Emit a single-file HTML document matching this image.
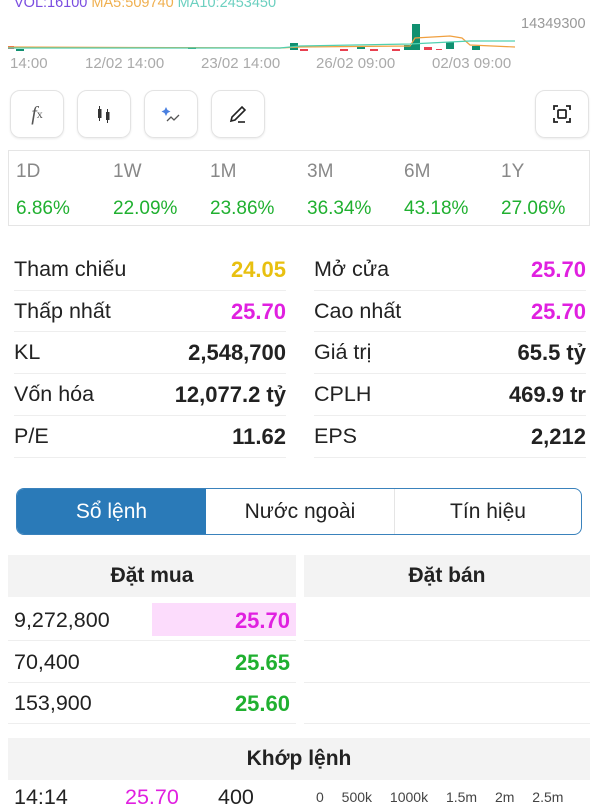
<!DOCTYPE html>
<html><head><meta charset="utf-8"><style>
*{margin:0;padding:0;box-sizing:border-box}
body{width:600px;height:800px;overflow:hidden;background:#fff;font-family:"Liberation Sans",sans-serif;position:relative;color:#222}
.a{position:absolute;white-space:nowrap}
.btn{position:absolute;top:90px;width:54px;height:48px;border:1px solid #e3e3e3;border-radius:10px;box-shadow:0 1px 2px rgba(0,0,0,.08);display:flex;align-items:center;justify-content:center}
.lbl{font-size:21.5px;color:#222}
.val{font-size:22px;font-weight:bold;text-align:right}
.sep{position:absolute;height:1px;background:#eee}
.p{font-size:19px}
</style></head><body>
<div class="a" style="top:-5px;left:14px;font-size:14.5px"><span style="color:#7a4de0">VOL:16100</span> <span style="color:#f0b050">MA5:509740</span> <span style="color:#6cd0c0">MA10:2453450</span></div>
<div class="a" style="top:16px;left:521px;font-size:14.5px;color:#999">14349300</div>
<svg class="a" style="left:0;top:20px" width="520" height="35">
<g fill="#109070">
<rect x="16" y="29" width="8" height="2"/><rect x="188" y="27" width="8" height="2"/><rect x="290" y="23" width="8" height="7"/><rect x="357" y="26" width="8" height="3"/><rect x="404" y="25" width="8" height="5"/><rect x="412" y="4" width="8" height="26"/><rect x="446" y="22" width="8" height="7"/><rect x="472" y="26" width="8" height="4"/>
</g>
<g fill="#e84050"><rect x="8" y="26" width="6" height="3"/><rect x="300" y="29" width="8" height="2"/><rect x="340" y="29" width="8" height="2"/><rect x="370" y="29" width="8" height="2"/><rect x="392" y="29" width="8" height="2"/><rect x="424" y="27" width="8" height="3"/><rect x="436" y="29" width="6" height="1"/></g>
<polyline points="8,27 280,28 300,27 410,26 415,18 450,16 462,18 470,25 515,27" fill="none" stroke="#f0a040" stroke-width="1.2"/>
<polyline points="8,28 280,28 300,26 410,24 450,22 470,21 515,21" fill="none" stroke="#50d0b0" stroke-width="1.2"/>
</svg>
<div class="a" style="top:55px;left:10px;font-size:15px;color:#aaa">14:00</div>
<div class="a" style="top:55px;left:85px;font-size:15px;color:#aaa">12/02 14:00</div>
<div class="a" style="top:55px;left:201px;font-size:15px;color:#aaa">23/02 14:00</div>
<div class="a" style="top:55px;left:316px;font-size:15px;color:#aaa">26/02 09:00</div>
<div class="a" style="top:55px;left:432px;font-size:15px;color:#aaa">02/03 09:00</div>
<div class="btn" style="left:10px;font-family:'Liberation Serif';font-size:20px;color:#555"><i>f</i><sub style="font-size:12px">x</sub></div>
<div class="btn" style="left:77px"><svg width="16" height="20"><rect x="2" y="5" width="3.5" height="9" fill="#333"/><line x1="3.5" y1="2" x2="3.5" y2="17" stroke="#333"/><rect x="10" y="8" width="3.5" height="8" fill="#333"/><line x1="11.5" y1="5" x2="11.5" y2="19" stroke="#333"/></svg></div>
<div class="btn" style="left:144px"><svg width="22" height="20"><path d="M6 3l1.5 3 3 1.5-3 1.5L6 12 4.5 9 1.5 7.5l3-1.5z" fill="#4a80e0"/><polyline points="7,17 11,13 14,16 19,11" fill="none" stroke="#555" stroke-width="1.3"/></svg></div>
<div class="btn" style="left:211px"><svg width="20" height="20"><path d="M3 17l1-4 10-10 3 3-10 10z" fill="none" stroke="#222" stroke-width="1.6"/><line x1="10" y1="18" x2="17" y2="18" stroke="#222" stroke-width="1.6"/></svg></div>
<div class="btn" style="left:535px"><svg width="18" height="18" fill="none" stroke="#222" stroke-width="1.8"><path d="M1 5V1h4M13 1h4v4M17 13v4h-4M5 17H1v-4"/><rect x="5" y="5" width="8" height="8" rx="1"/></svg></div>
<div class="a" style="left:8px;top:150px;width:582px;height:76px;border:1px solid #e5e5e5"></div>
<div class="a p" style="top:161px;left:16px;color:#888">1D</div>
<div class="a p" style="top:161px;left:113px;color:#888">1W</div>
<div class="a p" style="top:161px;left:210px;color:#888">1M</div>
<div class="a p" style="top:161px;left:307px;color:#888">3M</div>
<div class="a p" style="top:161px;left:404px;color:#888">6M</div>
<div class="a p" style="top:161px;left:501px;color:#888">1Y</div>
<div class="a p" style="top:198px;left:16px;color:#20b030">6.86%</div>
<div class="a p" style="top:198px;left:113px;color:#20b030">22.09%</div>
<div class="a p" style="top:198px;left:210px;color:#20b030">23.86%</div>
<div class="a p" style="top:198px;left:307px;color:#20b030">36.34%</div>
<div class="a p" style="top:198px;left:404px;color:#20b030">43.18%</div>
<div class="a p" style="top:198px;left:501px;color:#20b030">27.06%</div>

<div class="a lbl" style="top:257px;left:14px">Tham chiếu</div><div class="a val" style="top:257px;right:314px;color:#e8c010">24.05</div>
<div class="a lbl" style="top:257px;left:314px">Mở cửa</div><div class="a val" style="top:257px;right:14px;color:#e020e0">25.70</div>
<div class="a lbl" style="top:299px;left:14px">Thấp nhất</div><div class="a val" style="top:299px;right:314px;color:#e020e0">25.70</div>
<div class="a lbl" style="top:299px;left:314px">Cao nhất</div><div class="a val" style="top:299px;right:14px;color:#e020e0">25.70</div>
<div class="a lbl" style="top:340px;left:14px">KL</div><div class="a val" style="top:340px;right:314px">2,548,700</div>
<div class="a lbl" style="top:340px;left:314px">Giá trị</div><div class="a val" style="top:340px;right:14px">65.5 tỷ</div>
<div class="a lbl" style="top:382px;left:14px">Vốn hóa</div><div class="a val" style="top:382px;right:314px">12,077.2 tỷ</div>
<div class="a lbl" style="top:382px;left:314px">CPLH</div><div class="a val" style="top:382px;right:14px">469.9 tr</div>
<div class="a lbl" style="top:424px;left:14px">P/E</div><div class="a val" style="top:424px;right:314px">11.62</div>
<div class="a lbl" style="top:424px;left:314px">EPS</div><div class="a val" style="top:424px;right:14px">2,212</div>
<div class="sep" style="top:290px;left:14px;width:272px"></div><div class="sep" style="top:290px;left:314px;width:272px"></div>
<div class="sep" style="top:331px;left:14px;width:272px"></div><div class="sep" style="top:331px;left:314px;width:272px"></div>
<div class="sep" style="top:373px;left:14px;width:272px"></div><div class="sep" style="top:373px;left:314px;width:272px"></div>
<div class="sep" style="top:415px;left:14px;width:272px"></div><div class="sep" style="top:415px;left:314px;width:272px"></div>
<div class="sep" style="top:457px;left:14px;width:272px"></div><div class="sep" style="top:457px;left:314px;width:272px"></div>

<div class="a" style="left:16px;top:488px;width:566px;height:47px;border:1.5px solid #3a82bc;border-radius:8px;overflow:hidden;display:flex;font-size:21px;padding-top:4px">
<div style="width:189px;background:#2a7ab8;color:#fff;display:flex;align-items:center;justify-content:center;margin-top:-4px">Sổ lệnh</div>
<div style="width:189px;display:flex;align-items:center;justify-content:center;border-right:1px solid #e5e5e5;margin-top:-4px">Nước ngoài</div>
<div style="flex:1;display:flex;align-items:center;justify-content:center;margin-top:-4px">Tín hiệu</div></div>

<div class="a" style="left:8px;top:555px;width:288px;height:42px;background:#f3f3f3;font-size:21px;font-weight:bold;display:flex;align-items:center;justify-content:center">Đặt mua</div>
<div class="a" style="left:304px;top:555px;width:286px;height:42px;background:#f3f3f3;font-size:21px;font-weight:bold;display:flex;align-items:center;justify-content:center">Đặt bán</div>
<div class="a" style="left:152px;top:603px;width:144px;height:33px;background:#fcdcfc"></div>
<div class="a lbl" style="top:608px;left:14px">9,272,800</div><div class="a val" style="top:608px;right:310px;color:#e020e0">25.70</div>
<div class="a lbl" style="top:650px;left:14px">70,400</div><div class="a val" style="top:650px;right:310px;color:#20b030">25.65</div>
<div class="a lbl" style="top:691px;left:14px">153,900</div><div class="a val" style="top:691px;right:310px;color:#20b030">25.60</div>
<div class="sep" style="top:640px;left:8px;width:288px"></div><div class="sep" style="top:640px;left:304px;width:286px"></div>
<div class="sep" style="top:682px;left:8px;width:288px"></div><div class="sep" style="top:682px;left:304px;width:286px"></div>
<div class="sep" style="top:723px;left:8px;width:288px"></div><div class="sep" style="top:723px;left:304px;width:286px"></div>
<div class="a" style="left:8px;top:738px;width:582px;height:42px;background:#f3f3f3;font-size:21px;font-weight:bold;display:flex;align-items:center;justify-content:center">Khớp lệnh</div>
<div class="a lbl" style="top:785px;left:14px">14:14</div>
<div class="a lbl" style="top:785px;left:125px;color:#e020e0">25.70</div>
<div class="a lbl" style="top:785px;left:218px">400</div>
<div class="a" style="top:789px;left:316px;font-size:14px;color:#444;word-spacing:14px">0 500k 1000k 1.5m 2m 2.5m</div>
</body></html>
